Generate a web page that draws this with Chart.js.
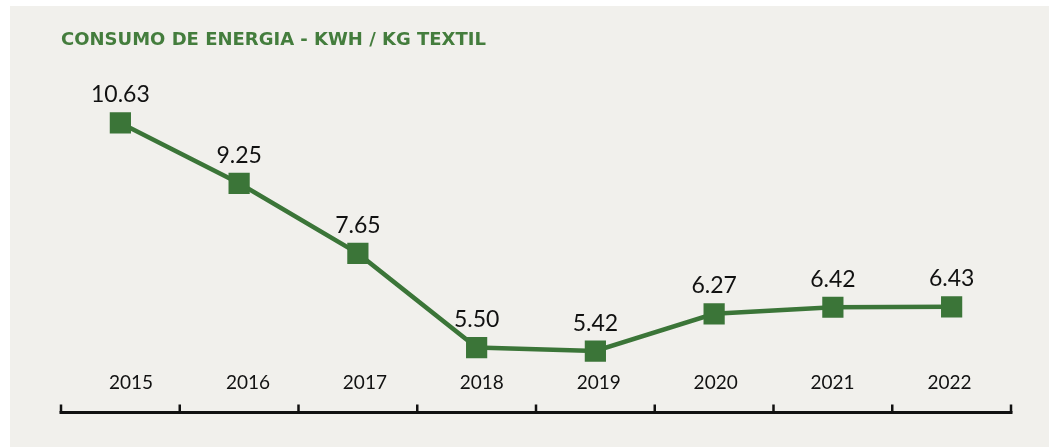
<!DOCTYPE html>
<html>
<head>
<meta charset="utf-8">
<script src="https://cdn.jsdelivr.net/npm/chart.js@4.4.1/dist/chart.umd.min.js"></script>
<style>
  html, body { margin: 0; padding: 0; background: #ffffff; }
  #bg { position: absolute; left: 10px; top: 6px; width: 1039px; height: 441px; background: #f1f0ec; }
  #wrap { position: absolute; left: 0; top: 0; width: 1049px; height: 447px; }
</style>
</head>
<body>
<div id="bg"></div>
<div id="wrap"><canvas id="c" width="1049" height="447"></canvas></div>
<script>
const title = 'CONSUMO DE ENERGIA - KWH / KG TEXTIL';
const years = ['2015', '2016', '2017', '2018', '2019', '2020', '2021', '2022'];
const consumo = [10.63, 9.25, 7.65, 5.50, 5.42, 6.27, 6.42, 6.43];
const yearTickIndex = [0, 1, 2, 3, 4, 5, 6, 7];

const GREEN = '#3b7538';
const TEXT = '#111111';
const FONT = 'Lato, "Open Sans", "DejaVu Sans", sans-serif';
const TITLE_FONT = '"DejaVu Sans", "Open Sans", sans-serif';

const valueLabels = {
  id: 'valueLabels',
  afterDatasetsDraw(chart) {
    const ctx = chart.ctx;
    const meta = chart.getDatasetMeta(0);
    ctx.save();
    ctx.fillStyle = TEXT;
    ctx.font = '23px ' + FONT;
    ctx.textAlign = 'center';
    ctx.textBaseline = 'alphabetic';
    meta.data.forEach((pt, i) => {
      ctx.fillText(consumo[i].toFixed(2), pt.x, pt.y - 20.5);
    });
    ctx.restore();
  }
};

const bracketAxis = {
  id: 'bracketAxis',
  afterDraw(chart) {
    const ctx = chart.ctx;
    const xs = chart.scales.x;
    const n = years.length;
    const step = xs.getPixelForValue(1) - xs.getPixelForValue(0);
    const yLine = 412.5;
    ctx.save();
    ctx.strokeStyle = TEXT;
    ctx.lineWidth = 3;
    ctx.lineCap = 'butt';
    const left = xs.getPixelForValue(0) - step / 2;
    const right = xs.getPixelForValue(n - 1) + step / 2;
    ctx.beginPath();
    ctx.moveTo(left - 1.5, yLine);
    ctx.lineTo(right + 1.5, yLine);
    ctx.stroke();
    ctx.lineWidth = 2.5;
    for (let i = 0; i <= n; i++) {
      const x = left + i * step;
      ctx.beginPath();
      ctx.moveTo(x, yLine);
      ctx.lineTo(x, yLine - 8);
      ctx.stroke();
    }
    ctx.restore();
  }
};

new Chart(document.getElementById('c'), {
  type: 'line',
  data: {
    labels: years,
    datasets: [{
      data: consumo,
      xAxisID: 'x',
      borderColor: GREEN,
      borderWidth: 4.5,
      backgroundColor: GREEN,
      pointStyle: 'rect',
      pointRadius: 15,
      pointHoverRadius: 15,
      pointBackgroundColor: GREEN,
      pointBorderColor: GREEN,
      pointBorderWidth: 0,
      tension: 0,
      fill: false
    }]
  },
  options: {
    responsive: false,
    animation: false,
    events: [],
    layout: { padding: { left: 61, right: 38, top: 0, bottom: 52.6 } },
    plugins: {
      legend: { display: false },
      tooltip: { enabled: false },
      title: {
        display: true,
        text: title,
        align: 'start',
        color: '#447d3d',
        font: { family: TITLE_FONT, size: 18, weight: 'bold' },
        padding: { top: 29.2, bottom: 29.2 }
      }
    },
    scales: {
      x: {
        type: 'category',
        offset: true,
        display: false
      },
      xYear: {
        type: 'linear',
        position: 'bottom',
        min: -0.599,
        max: 7.526,
        grid: { display: false, drawTicks: false },
        border: { display: false },
        afterBuildTicks(scale) {
          scale.ticks = yearTickIndex.map(v => ({ value: v }));
        },
        ticks: {
          color: TEXT,
          font: { family: FONT, size: 19 },
          padding: 0,
          maxRotation: 0,
          autoSkip: false,
          includeBounds: false,
          callback: (v) => years[v]
        }
      },
      y: {
        display: false,
        min: 4.95,
        max: 11.61
      }
    }
  },
  plugins: [valueLabels, bracketAxis]
});
</script>
</body>
</html>
